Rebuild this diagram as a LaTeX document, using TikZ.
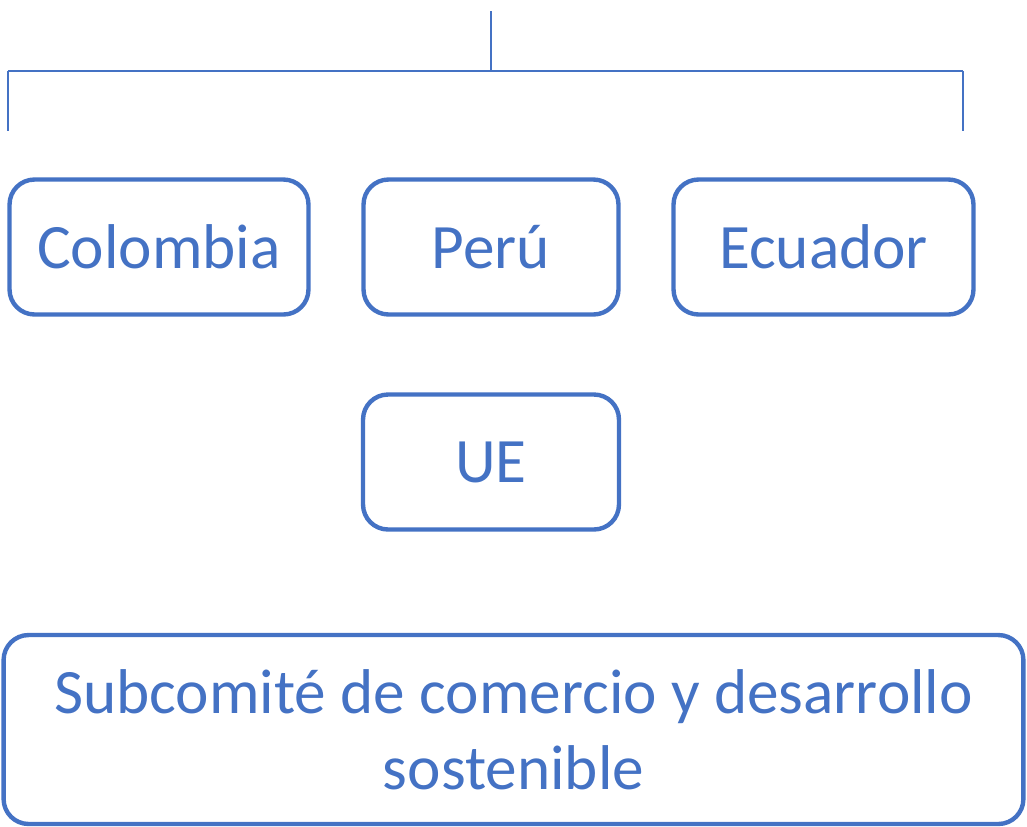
\documentclass[tikz,border=0pt]{standalone}
\usepackage{fontspec}
\setmainfont{Carlito}
\definecolor{ueblue}{HTML}{4472C4}
\tikzset{
  caja/.style={draw=ueblue, line width=2.5pt, rounded corners=0.5cm, rectangle,
    inner sep=0pt, text=ueblue, font=\fontsize{36}{43}\selectfont, align=center},
  rama/.style={draw=ueblue, line width=1.1pt}
}
\begin{document}
\begin{tikzpicture}[x=0.02cm,y=-0.02cm]
\useasboundingbox (0,0) rectangle (1027,826);
\coordinate (top) at (491,11);
\coordinate (hub) at (491,71);
\coordinate (lft) at (8,71);
\coordinate (lftend) at (8,131);
\coordinate (rgt) at (963,71);
\coordinate (rgtend) at (963,131);
\draw[rama](top) -- (hub);
\draw[rama](lft) -- (rgt);
\draw[rama](lft) -- (lftend);
\draw[rama](rgt) -- (rgtend);
\node[caja, minimum width=5.98cm, minimum height=2.7cm] (col) at (159,247){Colombia};
\node[caja, minimum width=5.1cm, minimum height=2.7cm] (per) at (491,247){Perú};
\node[caja, minimum width=6cm, minimum height=2.7cm] (ecu) at (823.5,247){Ecuador};
\node[caja, minimum width=5.12cm, minimum height=2.7cm] (ue) at (491,462){UE};
\node[caja, minimum width=20.4cm, minimum height=3.78cm] (sub) at (513.5,729.5){Subcomité de comercio y desarrollo\\sostenible};
\end{tikzpicture}
\end{document}
